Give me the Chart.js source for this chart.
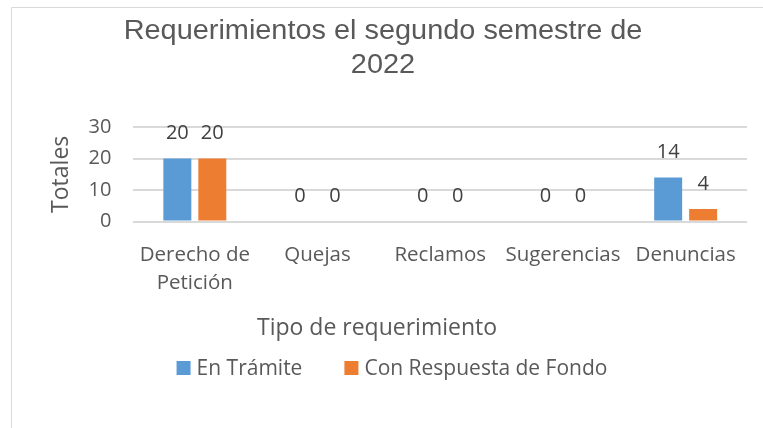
<!DOCTYPE html>
<html lang="es">
<head>
<meta charset="UTF-8">
<title>Requerimientos segundo semestre 2022</title>
<script src="https://cdn.jsdelivr.net/npm/chart.js@4"></script>
<style>
  html, body { margin: 0; padding: 0; background: #ffffff; }
  #contenedor { position: relative; width: 763px; height: 428px; }
</style>
</head>
<body>
<div id="contenedor"><canvas id="chartRequerimientos" width="763" height="428"></canvas></div>
<script>
const categorias = [["Derecho de", "Petición"], "Quejas", "Reclamos", "Sugerencias", "Denuncias"];
const enTramite = [20, 0, 0, 0, 14];
const conRespuesta = [20, 0, 0, 0, 4];
const ticksY = [0, 10, 20, 30];
const tituloGrafico = ["Requerimientos el segundo semestre de", "2022"];
const tituloEjeX = "Tipo de requerimiento";
const tituloEjeY = "Totales";
const nombresSeries = ["En Trámite", "Con Respuesta de Fondo"];

const COLOR_TEXTO = "#595959";
const COLOR_VALORES = "#404040";
const COLOR_GRILLA = "#d9d9d9";
const FUENTE = "'Open Sans', sans-serif";

// marco gris de la caja del grafico (solo borde izquierdo y superior se ven)
const marcoPlugin = {
  id: "marco",
  beforeDraw(chart) {
    const ctx = chart.ctx;
    ctx.save();
    ctx.strokeStyle = COLOR_GRILLA;
    ctx.lineWidth = 1;
    ctx.beginPath();
    ctx.moveTo(11.5, chart.height);
    ctx.lineTo(11.5, 7.5);
    ctx.lineTo(chart.width, 7.5);
    ctx.stroke();
    ctx.restore();
  }
};

// titulo en dos lineas, centrado en la caja (el original esta un poco estirado)
const tituloPlugin = {
  id: "tituloCaja",
  afterDraw(chart) {
    const ctx = chart.ctx;
    ctx.save();
    ctx.font = "27px 'Liberation Sans', Arial, sans-serif";
    ctx.fillStyle = COLOR_TEXTO;
    ctx.textAlign = "center";
    ctx.textBaseline = "alphabetic";
    ctx.translate(383, 0);
    ctx.scale(1.07, 1);
    ctx.fillText(tituloGrafico[0], 0, 39);
    ctx.fillText(tituloGrafico[1], 0, 73);
    ctx.restore();
  }
};

// valores encima de cada barra
const etiquetasPlugin = {
  id: "etiquetas",
  afterDatasetsDraw(chart) {
    const ctx = chart.ctx;
    ctx.save();
    ctx.font = "20px " + FUENTE;
    ctx.fillStyle = COLOR_VALORES;
    ctx.textAlign = "center";
    ctx.textBaseline = "middle";
    chart.data.datasets.forEach((ds, i) => {
      chart.getDatasetMeta(i).data.forEach((barra, j) => {
        ctx.fillText(String(ds.data[j]), barra.x, barra.y - 25);
      });
    });
    ctx.restore();
  }
};

// titulo del eje X y leyenda, centrados en la caja como en Excel
const pieGraficoPlugin = {
  id: "pieGrafico",
  afterDraw(chart) {
    const ctx = chart.ctx;
    ctx.save();
    ctx.fillStyle = COLOR_TEXTO;
    ctx.textBaseline = "middle";

    ctx.font = "23px " + FUENTE;
    ctx.textAlign = "center";
    ctx.fillText(tituloEjeX, 377, 328);

    ctx.font = "21px " + FUENTE;
    ctx.textAlign = "left";
    const caja = 14;
    const separacion = 6;
    const entreItems = 42;
    const anchos = chart.data.datasets.map(ds => ctx.measureText(ds.label).width);
    let total = 0;
    anchos.forEach((w, i) => {
      total += caja + separacion + w + (i > 0 ? entreItems : 0);
    });
    let x = 392 - total / 2;
    const y = 368;
    chart.data.datasets.forEach((ds, i) => {
      ctx.fillStyle = ds.backgroundColor;
      ctx.fillRect(x, y - caja / 2, caja, caja);
      ctx.fillStyle = COLOR_TEXTO;
      ctx.fillText(ds.label, x + caja + separacion, y + 1);
      x += caja + separacion + anchos[i] + entreItems;
    });
    ctx.restore();
  }
};

function crearGrafico() {
  const canvas = document.getElementById("chartRequerimientos");

  new Chart(canvas, {
    type: "bar",
    data: {
      labels: categorias,
      datasets: [
        {
          label: nombresSeries[0],
          data: enTramite,
          backgroundColor: "#5b9bd5",
          categoryPercentage: 0.57,
          barPercentage: 0.8
        },
        {
          label: nombresSeries[1],
          data: conRespuesta,
          backgroundColor: "#ed7d31",
          categoryPercentage: 0.57,
          barPercentage: 0.8
        }
      ]
    },
    options: {
      responsive: false,
      animation: false,
      devicePixelRatio: 1,
      layout: {
        padding: { top: 127, right: 16, bottom: 119, left: 28 }
      },
      plugins: {
        legend: { display: false },
        tooltip: { enabled: false },
        title: { display: false }
      },
      scales: {
        x: {
          grid: { display: false },
          border: { display: false },
          ticks: {
            color: COLOR_TEXTO,
            font: { family: FUENTE, size: 20.5, lineHeight: 1.4 },
            padding: 11,
            maxRotation: 0,
            autoSkip: false
          }
        },
        y: {
          min: ticksY[0],
          max: ticksY[ticksY.length - 1],
          border: { display: false },
          grid: { color: COLOR_GRILLA, lineWidth: 2, drawTicks: false },
          ticks: {
            stepSize: ticksY[1] - ticksY[0],
            autoSkip: false,
            color: COLOR_TEXTO,
            font: { family: FUENTE, size: 20, lineHeight: 1.2 },
            padding: 22
          },
          title: {
            display: true,
            text: tituloEjeY,
            color: COLOR_TEXTO,
            font: { family: FUENTE, size: 23, lineHeight: 1.2 },
            padding: { top: 20, bottom: -9 }
          }
        }
      }
    },
    plugins: [marcoPlugin, tituloPlugin, etiquetasPlugin, pieGraficoPlugin]
  });
}

document.fonts.load("20px 'Open Sans'").then(crearGrafico, crearGrafico);
</script>
</body>
</html>
